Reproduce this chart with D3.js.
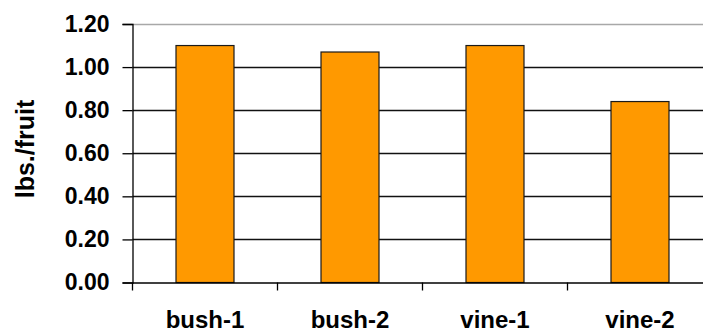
<!DOCTYPE html>
<html>
<head>
<meta charset="utf-8">
<script src="https://cdn.jsdelivr.net/npm/d3@7"></script>
<style>
  html, body { margin: 0; padding: 0; background: #fff; }
  svg { display: block; }
  text { font-family: "Liberation Sans", Arial, sans-serif; font-weight: bold; fill: #000; }
</style>
</head>
<body>
<svg id="chart" width="703" height="333"></svg>
<script>
const categories = ["bush-1", "bush-2", "vine-1", "vine-2"];
const values = [1.10, 1.07, 1.10, 0.84];
const yTicks = [0, 0.2, 0.4, 0.6, 0.8, 1.0, 1.2];
const yTitle = "lbs./fruit";

const svg = d3.select("#chart");
const mLeft = 132.5, mRight = 712.5, mTop = 24, mBottom = 282.5;

const x = d3.scaleBand().domain(categories).range([mLeft, mRight]).paddingInner(0.6).paddingOuter(0.3);
const xOuter = d3.scaleBand().domain(categories).range([mLeft, mRight]);
const y = d3.scaleLinear().domain([0, 1.2]).range([mBottom, mTop]);

// gridlines
svg.append("g").selectAll("line").data(yTicks.filter(d => d > 0)).join("line")
  .attr("x1", mLeft).attr("x2", 703)
  .attr("y1", d => Math.round(y(d)) + 0.5).attr("y2", d => Math.round(y(d)) + 0.5)
  .attr("stroke", d => d === 1.2 ? "#a8a8a8" : "#111")
  .attr("stroke-width", d => d === 1.2 ? 1.5 : 1.3);

// bars
svg.append("g").selectAll("rect").data(values).join("rect")
  .attr("x", (d, i) => x(categories[i]))
  .attr("width", x.bandwidth())
  .attr("y", d => y(d))
  .attr("height", d => y(0) - y(d))
  .attr("fill", "#FF9900")
  .attr("stroke", "#1a1a1a")
  .attr("stroke-width", 1.2);

// y axis
const yAxis = d3.axisLeft(y).tickValues(yTicks).tickFormat(d3.format(".2f")).tickSize(10).tickPadding(13);
const gy = svg.append("g").attr("transform", `translate(${mLeft},0)`).call(yAxis);
gy.select(".domain").attr("stroke", "#000").attr("stroke-width", 1.3);
gy.selectAll(".tick line").attr("stroke", "#000").attr("stroke-width", 1.3);
gy.selectAll(".tick text").attr("font-size", 23).attr("font-family", "Liberation Sans, Arial, sans-serif").attr("font-weight", "bold").attr("fill", "#000");

// x axis
const xAxis = d3.axisBottom(xOuter).tickSize(0).tickPadding(28);
const gx = svg.append("g").attr("transform", `translate(0,${mBottom})`).call(xAxis);
gx.select(".domain").attr("stroke", "#000").attr("stroke-width", 1.3);
gx.selectAll(".tick text").attr("font-size", 24).attr("font-family", "Liberation Sans, Arial, sans-serif").attr("font-weight", "bold").attr("fill", "#000");

// boundary ticks
const bounds = categories.map(c => xOuter(c));
svg.append("g").selectAll("line").data(bounds).join("line")
  .attr("x1", d => d).attr("x2", d => d)
  .attr("y1", mBottom).attr("y2", mBottom + 8)
  .attr("stroke", "#000").attr("stroke-width", 1.3);

// y title
svg.append("text")
  .attr("transform", "translate(34,149) rotate(-90)")
  .attr("text-anchor", "middle")
  .attr("font-size", 25)
  .text(yTitle);
</script>
</body>
</html>
